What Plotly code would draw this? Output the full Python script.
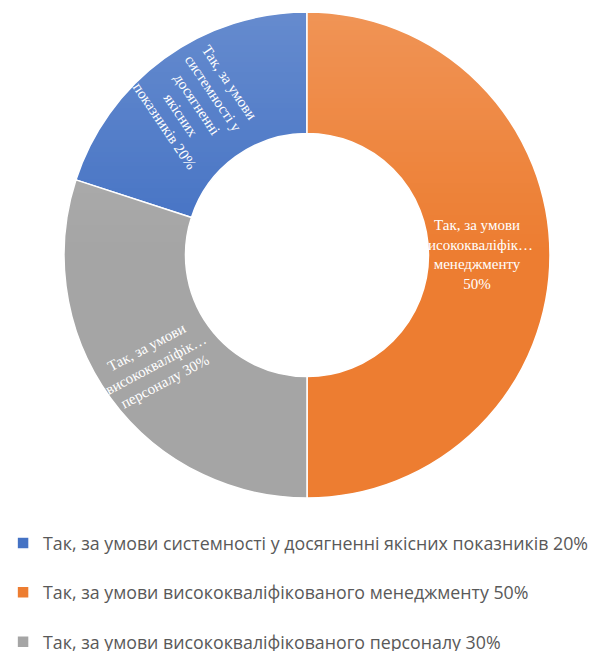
import base64
import math
import struct
import zlib

import plotly.graph_objects as go

# Survey answers and their shares (%)
labels = [
    "Так, за умови системності у досягненні якісних показників 20%",
    "Так, за умови висококваліфікованого менеджменту 50%",
    "Так, за умови висококваліфікованого персоналу 30%",
]
values = [20, 50, 30]
slice_text = [
    "Так, за умови<br>системності у<br>досягненні<br>якісних<br>показників 20%",
    "Так, за умови<br>висококваліфік…<br>менеджменту<br>50%",
    "Так, за умови<br>висококваліфік…<br>персоналу 30%",
]
colors = ["#4472C4", "#ED7D31", "#A5A5A5"]

# label styling: rotation of each slice caption and its radial offset (fraction of ring)
label_angles = [56, 0, -28]
label_radius = [0.77, 0.70, 0.77]

W, H = 613, 651
START = 288          # first slice starts at this clock angle (deg, clockwise from 12)
HOLE = 0.5
dom_x = [64 / W, 550 / W]
dom_y = [1 - 498 / H, 1 - 12 / H]


def gloss_png(height, top_alpha):
    """1-px wide white strip fading from top_alpha at the top to 0 half-way down."""
    rows = b""
    for i in range(height):
        a = max(0.0, (0.5 - i / (height - 1)) / 0.5) * top_alpha
        rows += b"\x00" + bytes([255, 255, 255, int(round(a * 255))])

    def chunk(tag, data):
        c = struct.pack(">I", len(data)) + tag + data
        return c + struct.pack(">I", zlib.crc32(tag + data) & 0xFFFFFFFF)

    png = b"\x89PNG\r\n\x1a\n"
    png += chunk(b"IHDR", struct.pack(">IIBBBBB", 1, height, 8, 6, 0, 0, 0))
    png += chunk(b"IDAT", zlib.compress(rows))
    png += chunk(b"IEND", b"")
    return "data:image/png;base64," + base64.b64encode(png).decode()


# legend entries get an empty second line to open up the row spacing
legend_names = [lab + ("<br> " if i < len(labels) - 1 else "") for i, lab in enumerate(labels)]

fig = go.Figure(
    go.Pie(
        labels=legend_names,
        values=values,
        textinfo="none",
        hole=HOLE,
        sort=False,
        direction="clockwise",
        rotation=START,
        marker=dict(colors=colors, line=dict(color="white", width=1.5)),
        domain=dict(x=dom_x, y=dom_y),
        hoverinfo="skip",
    )
)

# soft light sheen over the upper part of the ring
fig.add_layout_image(
    source=gloss_png(200, 0.18),
    xref="paper", yref="paper",
    x=dom_x[0], y=dom_y[1],
    sizex=dom_x[1] - dom_x[0], sizey=dom_y[1] - dom_y[0],
    xanchor="left", yanchor="top",
    sizing="stretch", layer="above",
)

# slice captions placed at the middle angle of each slice
cx_px = (dom_x[0] + dom_x[1]) / 2 * W
cy_px = (1 - (dom_y[0] + dom_y[1]) / 2) * H
r_out = (dom_x[1] - dom_x[0]) * W / 2
total = sum(values)
cum = 0
for val, txt, ang, rf in zip(values, slice_text, label_angles, label_radius):
    mid = math.radians(START + (cum + val / 2) / total * 360)
    cum += val
    r = r_out * rf
    x_px = cx_px + r * math.sin(mid)
    y_px = cy_px - r * math.cos(mid)
    fig.add_annotation(
        x=x_px / W, y=1 - y_px / H, xref="paper", yref="paper",
        text=txt, showarrow=False, textangle=ang,
        xanchor="center", yanchor="middle", align="center",
        font=dict(family="Liberation Serif", size=15, color="white"),
    )

fig.update_layout(
    width=W,
    height=H,
    margin=dict(l=0, r=0, t=0, b=0, autoexpand=False),
    paper_bgcolor="white",
    plot_bgcolor="white",
    showlegend=True,
    legend=dict(
        x=0.005,
        xanchor="left",
        y=1 - 525 / H,
        yanchor="top",
        orientation="v",
        valign="top",
        font=dict(family="Open Sans", size=17.8, color="#595959"),
        bgcolor="rgba(0,0,0,0)",
    ),
)

fig.write_html("out.html")
